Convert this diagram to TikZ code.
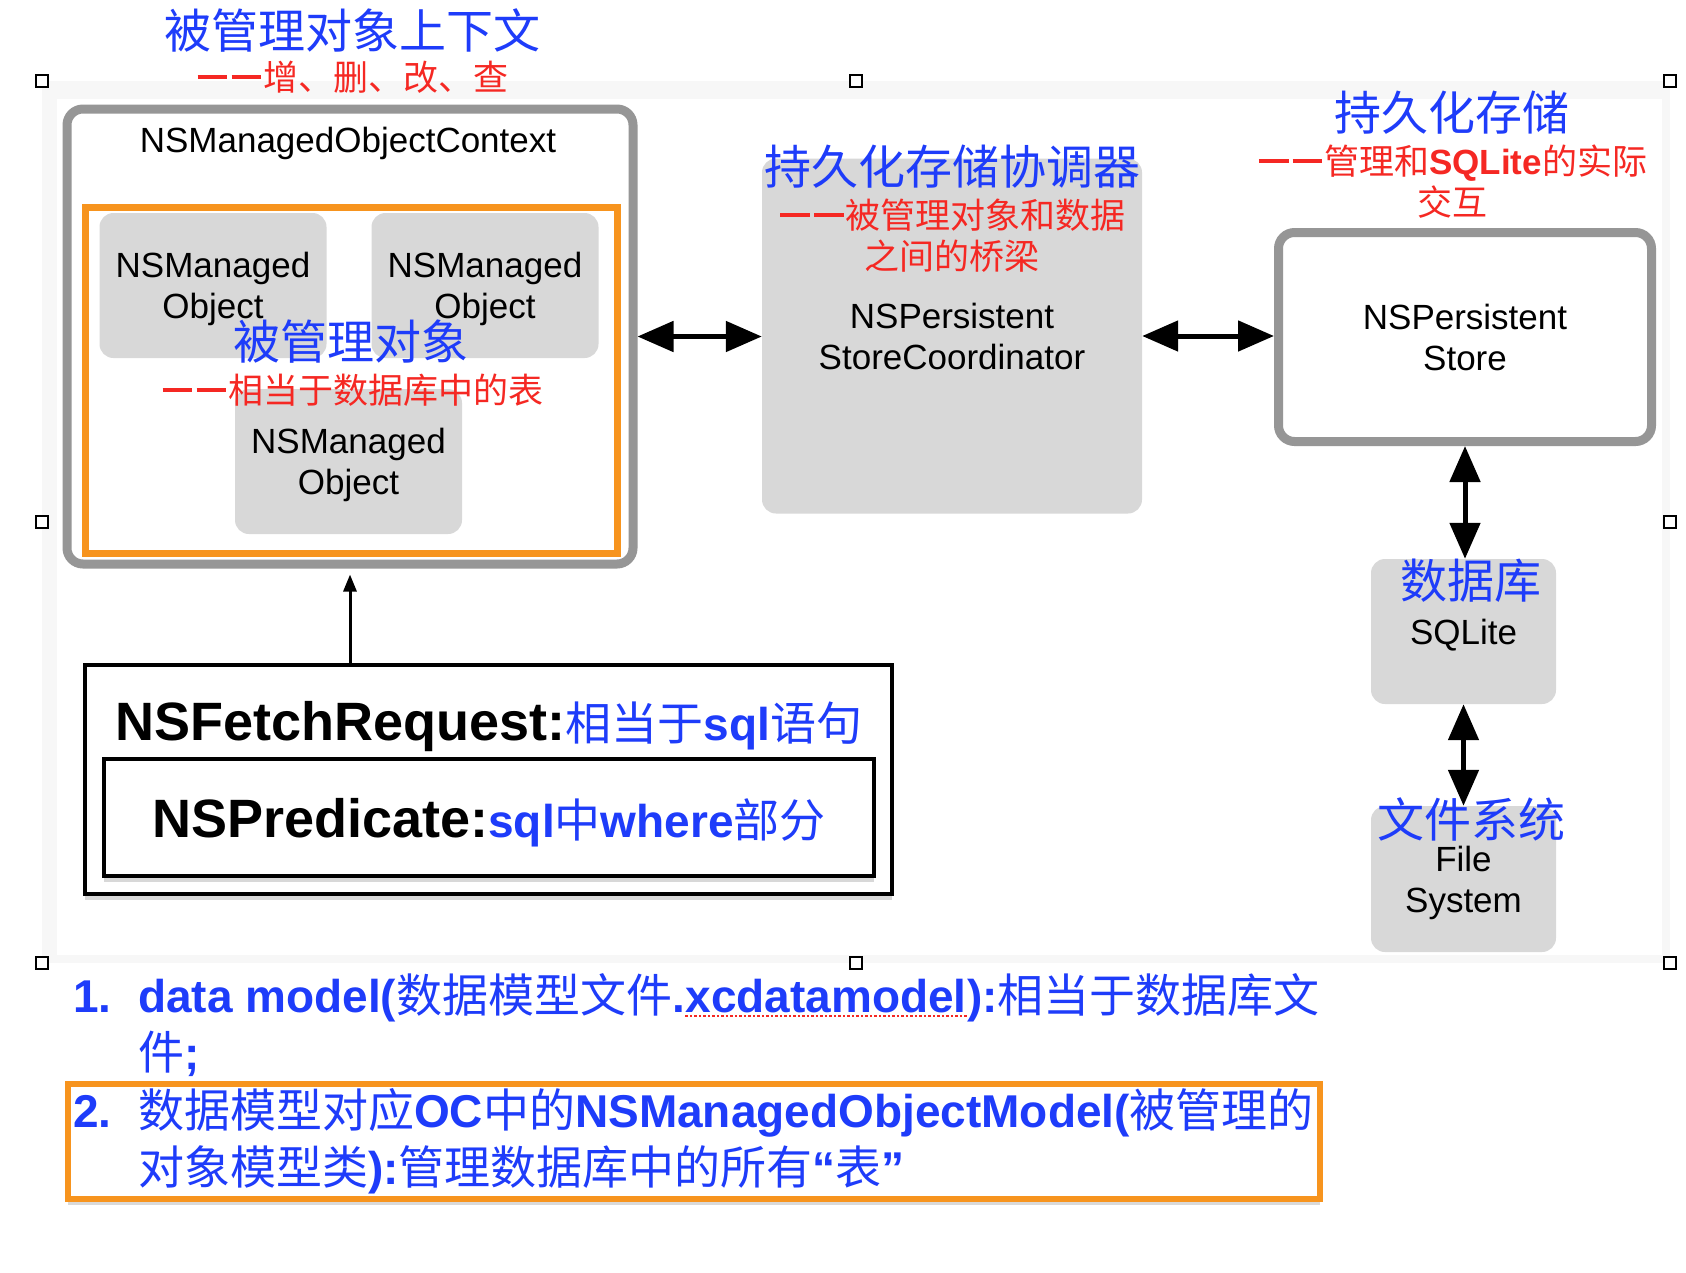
\documentclass[tikz,border=0pt]{standalone}
\usepackage{fontspec}
\setmainfont{Liberation Sans}
\newfontfamily\zhfont{Noto Sans CJK SC}
\newcommand\cn[1]{{\zhfont\mdseries #1}}
\newcommand\dsh{\hspace{0.05em}\rule[0.33em]{0.85em}{0.11em}\hspace{0.12em}\rule[0.33em]{0.85em}{0.11em}\hspace{0.05em}}
\newcommand\up{\rule{0pt}{33pt}}
\usetikzlibrary{arrows.meta, shadows}
\definecolor{tagblue}{RGB}{30,60,250}
\definecolor{tagred}{RGB}{245,40,35}
\definecolor{hlorange}{RGB}{247,148,30}
\definecolor{boxgray}{RGB}{216,216,216}
\definecolor{ringgray}{RGB}{150,150,150}
\definecolor{bandgray}{RGB}{247,247,247}
\tikzset{
    objbox/.style={fill=boxgray, rounded corners=14pt, minimum width=227pt, minimum height=145pt,
        align=center, inner sep=0pt, font=\fontsize{35}{41}\selectfont},
    ringbox/.style={draw=ringgray, fill=white, line width=9pt, rounded corners=16pt,
        align=center, inner sep=0pt, font=\fontsize{35}{41}\selectfont},
    bluetag/.style={text=tagblue, inner sep=0pt, font=\zhfont\fontsize{47}{52}\selectfont},
    redtag/.style={text=tagred, inner sep=0pt, align=center, font=\fontsize{35}{41}\selectfont},
    biarrow/.style={{Triangle[length=36pt,width=30pt]}-{Triangle[length=36pt,width=30pt]}, line width=5pt},
    fetchbox/.style={draw=black, fill=white, line width=4.5pt,
        drop shadow={shadow xshift=0pt, shadow yshift=-6pt, opacity=0.3}},
    itembox/.style={draw=hlorange, fill=white, line width=6pt,
        drop shadow={shadow xshift=0pt, shadow yshift=-6pt, opacity=0.3}},
    listtxt/.style={anchor=base west, inner sep=0pt, text=tagblue, font=\fontsize{46}{57}\selectfont\bfseries},
    handle/.style={draw=black, fill=white, line width=1.2pt, minimum size=12pt, inner sep=0pt},
}

\begin{document}
\begin{tikzpicture}[x=1pt, y=-1pt]
    \useasboundingbox (0,0) rectangle (1686,1272);
    % pasted image area
    \fill[bandgray] (42,81) rectangle (1670,963);
    \fill[white] (57,99) rectangle (1662,955);
    \foreach \hx/\hy [count=\i] in {42/81, 856/81, 1670/81, 42/522, 1670/522, 42/963, 856/963, 1670/963}
        \node[handle] (h\i) at (\hx,\hy) {};

    % context
    \node[ringbox, minimum width=566pt, minimum height=455pt] (ctx) at (350,336.5) {};
    \node[font=\fontsize{35}{41}\selectfont, inner sep=0pt] (ctxname) at (348,143) {NSManagedObjectContext};
    \node[draw=hlorange, line width=7pt, minimum width=532pt, minimum height=346pt] (objset) at (351,380) {};
    \node[objbox] (obj1) at (213,285.5) {\up NSManaged\\Object};
    \node[objbox] (obj2) at (485,285.5) {\up NSManaged\\Object};
    \node[objbox] (obj3) at (348.5,461.5) {\up NSManaged\\Object};

    % coordinator, store, database, file system
    \node[objbox, minimum width=380pt, minimum height=355pt] (psc) at (952,336) {NSPersistent\\StoreCoordinator};
    \node[ringbox, minimum width=373pt, minimum height=209pt] (store) at (1465,337) {NSPersistent\\Store};
    \node[objbox, minimum width=185pt, minimum height=145pt] (db) at (1463.5,631.5) {\up SQLite};
    \node[objbox, minimum width=185pt, minimum height=146pt] (fs) at (1463.5,879) {\up File\\System};

    \draw[biarrow] (ctx.east) -- (ctx.east -| psc.west);
    \draw[biarrow] (psc.east) -- (psc.east -| store.west);
    \draw[biarrow] (store.south) -- (store.south |- db.north);
    \draw[biarrow] (db.south) -- (fs.north);

    % fetch request
    \node[fetchbox, minimum width=807pt, minimum height=229pt] (fetch) at (488.5,779.5) {};
    \node[fetchbox, minimum width=770pt, minimum height=117pt] (pred) at (489,817.5) {};
    \node[anchor=base, inner sep=0pt, font=\fontsize{54}{60}\selectfont\bfseries] (fetchtxt) at (489,740)
        {NSFetchRequest:{\color{tagblue}\fontsize{46}{50}\selectfont\cn{相当于}sql\cn{语句}}};
    \node[anchor=base, inner sep=0pt, font=\fontsize{54}{60}\selectfont\bfseries] (predtxt) at (489,837)
        {NSPredicate:{\color{tagblue}\fontsize{46}{50}\selectfont sql\cn{中}where\cn{部分}}};
    \draw[line width=3pt, -{Triangle[length=17pt,width=13pt]}, shorten >=6pt] (ctx.south |- fetch.north) -- (ctx.south);

    % labels
    \node[bluetag] (ctxtag) at (352,30) {被管理对象上下文};
    \node[redtag] (ctxsub) at (352,77) {\dsh\cn{增、删、改、查}};
    \node[bluetag] (objtag) at (351,342) {被管理对象};
    \node[redtag] (objsub) at (352,390) {\dsh\cn{相当于数据库中的表}};
    \node[bluetag] (psctag) at (952,167) {持久化存储协调器};
    \node[redtag] (pscsub) at (952,235.5) {\dsh\cn{被管理对象和数据}\\\cn{之间的桥梁}};
    \node[bluetag] (pstag) at (1452,113) {持久化存储};
    \node[redtag] (pssub) at (1452,181.5) {\dsh\cn{管理和}\textbf{SQLite}\cn{的实际}\\\cn{交互}};
    \node[bluetag] (dbtag) at (1471,581) {数据库};
    \node[bluetag] (fstag) at (1471,819) {文件系统};

    % notes below
    \node[listtxt] (n1) at (73,1012) {1.};
    \node[listtxt] (l1a) at (138,1012) {data model(\cn{数据模型文件}.};
    \node[listtxt] (xcd) at (l1a.base east) {xcdatamodel};
    \node[listtxt] (l1c) at (xcd.base east) {):\cn{相当于数据库文}};
    \node[listtxt] (l1d) at (138,1069) {\cn{件};};
    \draw[tagred, line width=2.5pt, dotted] ([yshift=-4pt]xcd.base west) -- ([yshift=-4pt]xcd.base east);
    \node[itembox, minimum width=1252pt, minimum height=115pt] (item2) at (694,1141.5) {};
    \node[listtxt] (n2) at (73,1127) {2.};
    \node[listtxt] (l2a) at (138,1127) {\cn{数据模型对应}OC\cn{中的}NSManagedObjectModel(\cn{被管理的}};
    \node[listtxt] (l2b) at (138,1184) {\cn{对象模型类}):\cn{管理数据库中的所有}“\cn{表}”};
\end{tikzpicture}
\end{document}
